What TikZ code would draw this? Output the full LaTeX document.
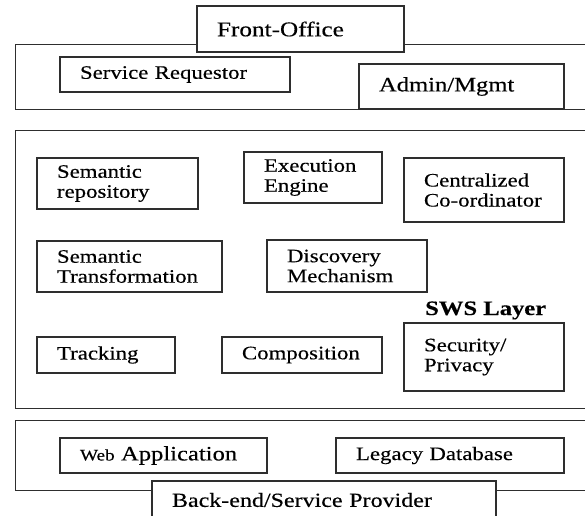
\documentclass[tikz,border=0pt]{standalone}
\usepackage{fontspec}
\setmainfont{Liberation Serif}[FakeStretch=1.2,FakeBold=0.35]
\newcommand\fs[1]{\fontsize{#1}{20}\selectfont}
\newcommand\bx[7][]{%
  \pgfmathsetmacro\bxw{#4-#2}%
  \pgfmathsetmacro\bxh{#5-#3}%
  \pgfmathsetmacro\bxt{#4-#2-40}%
  \node[box,minimum width=\bxw pt,minimum height=\bxh pt,text width=\bxt pt,#1]
    (#6) at ({(#2+#4)/2},{(#3+#5)/2}) {#7};}
\begin{document}
\begin{tikzpicture}[x=1pt,y=-1pt,
  box/.style={draw=black!82,line width=1.1pt,inner xsep=20pt,inner ysep=0pt,
    align=left,font=\fs{19},text=black},
  layer/.style={draw=black!82,line width=1.1pt,anchor=north west,inner sep=0pt}]
\useasboundingbox (0,0) rectangle (585,515);
\clip (0,0) rectangle (585,515);
% layers
\node[layer,minimum width=600pt,minimum height=65pt] (toplayer) at (15,44) {};
\node[layer,minimum width=600pt,minimum height=278pt] (swslayer) at (15,130) {};
\node[layer,minimum width=600pt,minimum height=70pt] (botlayer) at (15,420) {};
% top
\bx[fill=white,font=\fs{21}]{197}{6}{404}{52}{front}{Front-Office}
\bx{60}{57}{290}{92}{req}{Service Requestor}
\bx[font=\fs{20.5}]{359}{64}{564}{109}{admin}{Admin/Mgmt}
% middle
\bx{37}{158}{198}{209}{semrep}{Semantic\\repository}
\bx{244}{152}{382}{203}{exec}{Execution\\Engine}
\bx{404}{158}{564}{222}{coord}{Centralized\\Co-ordinator}
\bx{37}{241}{222}{292}{semtr}{Semantic\\Transformation}
\bx{267}{240}{427}{292}{disc}{Discovery\\Mechanism}
\node[anchor=base west,inner sep=0pt,font=\fs{20.5}\bfseries] (swslabel) at (425,315) {SWS Layer};
\bx{37}{337}{175}{373}{track}{Tracking}
\bx{222}{337}{382}{373}{comp}{Composition}
\bx{404}{323}{564}{391}{sec}{Security/\\Privacy}
% bottom
\bx{60}{438}{267}{473}{web}{{\fs{16}Web} {\fs{20.5}Application}}
\bx{336}{438}{564}{473}{legacy}{Legacy Database}
\bx[fill=white,font=\fs{20}]{152}{481}{496}{519}{backend}{Back-end/Service Provider}
\end{tikzpicture}
\end{document}
